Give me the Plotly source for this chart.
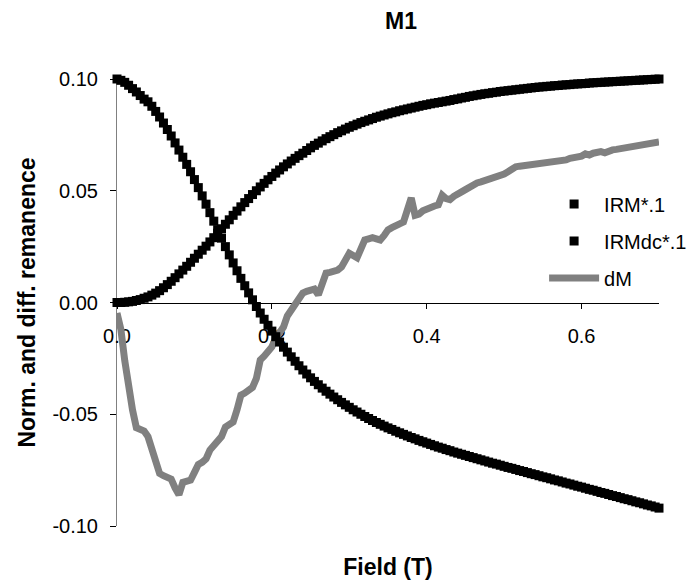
import numpy as np
import plotly.graph_objects as go

# Applied field steps (T)
field = np.round(np.arange(0, 0.7001, 0.005), 3)

# IRM acquisition, scaled by 0.1
irm = [
    0.0000, 0.0000, 0.0001, 0.0003, 0.0005, 0.0009, 0.0013, 0.0019, 0.0025, 0.0033,
    0.0042, 0.0053, 0.0066, 0.0080, 0.0095, 0.0111, 0.0128, 0.0145, 0.0162, 0.0180,
    0.0198, 0.0216, 0.0234, 0.0252, 0.0271, 0.0290, 0.0310, 0.0330, 0.0350, 0.0370,
    0.0390, 0.0409, 0.0428, 0.0447, 0.0465, 0.0483, 0.0500, 0.0517, 0.0533, 0.0549,
    0.0564, 0.0579, 0.0593, 0.0607, 0.0620, 0.0633, 0.0645, 0.0657, 0.0668, 0.0680,
    0.0692, 0.0703, 0.0713, 0.0723, 0.0733, 0.0742, 0.0751, 0.0760, 0.0768, 0.0776,
    0.0784, 0.0791, 0.0798, 0.0805, 0.0811, 0.0817, 0.0823, 0.0829, 0.0834, 0.0839,
    0.0844, 0.0849, 0.0853, 0.0858, 0.0862, 0.0866, 0.0870, 0.0874, 0.0878, 0.0882,
    0.0885, 0.0889, 0.0892, 0.0895, 0.0898, 0.0901, 0.0904, 0.0908, 0.0911, 0.0915,
    0.0918, 0.0922, 0.0925, 0.0928, 0.0931, 0.0934, 0.0936, 0.0939, 0.0941, 0.0944,
    0.0946, 0.0948, 0.0950, 0.0952, 0.0954, 0.0956, 0.0958, 0.0960, 0.0962, 0.0964,
    0.0965, 0.0967, 0.0968, 0.0970, 0.0971, 0.0973, 0.0974, 0.0975, 0.0977, 0.0978,
    0.0979, 0.0980, 0.0982, 0.0983, 0.0984, 0.0985, 0.0986, 0.0987, 0.0988, 0.0989,
    0.0990, 0.0991, 0.0992, 0.0993, 0.0994, 0.0995, 0.0996, 0.0997, 0.0998, 0.0999,
    0.1000,
]

# DC demagnetisation of IRM, scaled by 0.1
irm_dc = [
    0.1000, 0.0994, 0.0985, 0.0972, 0.0957, 0.0942, 0.0926, 0.0910, 0.0898, 0.0878,
    0.0855, 0.0830, 0.0803, 0.0774, 0.0745, 0.0714, 0.0682, 0.0650, 0.0618, 0.0585,
    0.0550, 0.0514, 0.0477, 0.0440, 0.0402, 0.0364, 0.0326, 0.0288, 0.0250, 0.0213,
    0.0177, 0.0142, 0.0108, 0.0075, 0.0043, 0.0012, -0.0018, -0.0047, -0.0075, -0.0102,
    -0.0128, -0.0153, -0.0177, -0.0200, -0.0222, -0.0243, -0.0263, -0.0283, -0.0302, -0.0320,
    -0.0337, -0.0353, -0.0368, -0.0383, -0.0397, -0.0410, -0.0423, -0.0435, -0.0447, -0.0458,
    -0.0469, -0.0480, -0.0490, -0.0500, -0.0510, -0.0519, -0.0528, -0.0537, -0.0545, -0.0553,
    -0.0561, -0.0568, -0.0576, -0.0583, -0.0590, -0.0597, -0.0604, -0.0610, -0.0617, -0.0623,
    -0.0629, -0.0635, -0.0641, -0.0647, -0.0652, -0.0658, -0.0663, -0.0669, -0.0674, -0.0679,
    -0.0684, -0.0689, -0.0694, -0.0699, -0.0704, -0.0709, -0.0714, -0.0719, -0.0723, -0.0728,
    -0.0733, -0.0738, -0.0742, -0.0747, -0.0752, -0.0756, -0.0761, -0.0766, -0.0770, -0.0775,
    -0.0780, -0.0784, -0.0789, -0.0794, -0.0798, -0.0803, -0.0808, -0.0812, -0.0817, -0.0822,
    -0.0826, -0.0831, -0.0836, -0.0840, -0.0845, -0.0850, -0.0854, -0.0859, -0.0864, -0.0868,
    -0.0873, -0.0878, -0.0882, -0.0887, -0.0892, -0.0896, -0.0901, -0.0906, -0.0910, -0.0915,
    -0.0920,
]

# Difference curve dM
dm = [
    -0.0047, -0.0120, -0.0260, -0.0380, -0.0480, -0.0560, -0.0565, -0.0575, -0.0600, -0.0665,
    -0.0700, -0.0765, -0.0775, -0.0780, -0.0790, -0.0830, -0.0860, -0.0805, -0.0800, -0.0795,
    -0.0760, -0.0725, -0.0715, -0.0700, -0.0660, -0.0638, -0.0625, -0.0600, -0.0557, -0.0545,
    -0.0535, -0.0480, -0.0414, -0.0405, -0.0395, -0.0380, -0.0340, -0.0257, -0.0240, -0.0215,
    -0.0199, -0.0160, -0.0130, -0.0110, -0.0060, -0.0035, -0.0020, 0.0015, 0.0042, 0.0050,
    0.0056, 0.0060, 0.0034, 0.0090, 0.0132, 0.0135, 0.0137, 0.0145, 0.0159, 0.0185,
    0.0220, 0.0210, 0.0200, 0.0240, 0.0280, 0.0285, 0.0290, 0.0285, 0.0280, 0.0300,
    0.0325, 0.0335, 0.0347, 0.0352, 0.0360, 0.0420, 0.0468, 0.0390, 0.0395, 0.0410,
    0.0420, 0.0425, 0.0432, 0.0437, 0.0480, 0.0465, 0.0460, 0.0475, 0.0490, 0.0495,
    0.0505, 0.0515, 0.0530, 0.0535, 0.0540, 0.0545, 0.0552, 0.0557, 0.0562, 0.0570,
    0.0575, 0.0585, 0.0598, 0.0607, 0.0610, 0.0612, 0.0614, 0.0616, 0.0620, 0.0623,
    0.0625, 0.0625, 0.0628, 0.0630, 0.0632, 0.0640, 0.0638, 0.0645, 0.0648, 0.0652,
    0.0655, 0.0665, 0.0660, 0.0668, 0.0672, 0.0675, 0.0670, 0.0680, 0.0683, 0.0685,
    0.0688, 0.0692, 0.0690, 0.0698, 0.0700, 0.0705, 0.0703, 0.0710, 0.0712, 0.0715,
    0.0718,
]

y_tickvals = [-0.10, -0.05, 0.00, 0.05, 0.10]
y_ticktext = ["-0.10", "-0.05", "0.00", "0.05", "0.10"]
x_tickvals = [0.0, 0.2, 0.4, 0.6]
x_ticktext = ["0.0", "0.2", "0.4", "0.6"]

FONT = "Arial, 'Liberation Sans', sans-serif"

fig = go.Figure()

# line series drawn first so the markers sit on top of it
fig.add_trace(go.Scatter(
    x=field, y=dm, name="dM", mode="lines",
    line=dict(color="#808080", width=7),
    legendgroup="c", legendrank=3, cliponaxis=False,
))
fig.add_trace(go.Scatter(
    x=field, y=irm, name="IRM*.1", mode="markers",
    marker=dict(symbol="square", size=9, color="black", line=dict(width=0)),
    legendgroup="a", legendrank=1, cliponaxis=False,
))
fig.add_trace(go.Scatter(
    x=field, y=irm_dc, name="IRMdc*.1", mode="markers",
    marker=dict(symbol="square", size=9, color="black", line=dict(width=0)),
    legendgroup="b", legendrank=2, cliponaxis=False,
))

fig.update_layout(
    width=689, height=580,
    margin=dict(l=117, r=30, t=79, b=54, autoexpand=False),
    paper_bgcolor="white", plot_bgcolor="white",
    font=dict(family=FONT, size=20, color="black"),
    title=dict(text="<b>M1</b>", font=dict(size=23), xref="container",
               x=401 / 689, xanchor="center", yref="container",
               y=1 - 21 / 580, yanchor="middle"),
    showlegend=True,
    legend=dict(x=0.788, y=0.764, xanchor="left", yanchor="top",
                bgcolor="rgba(0,0,0,0)", font=dict(size=20),
                tracegroupgap=8, traceorder="grouped", itemwidth=50),
    # x axis crossing at y = 0
    xaxis=dict(range=[0, 0.7], anchor="free", position=0.5,
               showline=True, linecolor="black", linewidth=1,
               ticks="outside", ticklen=5, tickcolor="black",
               tickvals=x_tickvals, ticktext=x_ticktext,
               ticklabelstandoff=10, showgrid=False, zeroline=False,
               layer="below traces", automargin=False),
    # bottom axis carrying only the title
    xaxis2=dict(range=[0, 0.7], overlaying="x", side="bottom", anchor="y",
                showline=False, showticklabels=False, ticks="",
                showgrid=False, zeroline=False, automargin=False,
                title=dict(text="<b>Field (T)</b>", font=dict(size=23), standoff=32)),
    yaxis=dict(range=[-0.1, 0.1], showline=True, linecolor="#808080", linewidth=1,
               ticks="outside", ticklen=6, tickcolor="black",
               tickvals=y_tickvals, ticktext=y_ticktext,
               ticklabelstandoff=8, showgrid=False, zeroline=False,
               layer="below traces", automargin=False,
               title=dict(text="<b>Norm. and diff. remanence</b>", font=dict(size=23),
                          standoff=10)),
)

# invisible trace to activate the title-only bottom axis
fig.add_trace(go.Scatter(x=[0], y=[0], xaxis="x2", mode="markers",
                         marker=dict(opacity=0), showlegend=False, hoverinfo="skip"))

fig.write_html("out.html", config={"displayModeBar": False})
